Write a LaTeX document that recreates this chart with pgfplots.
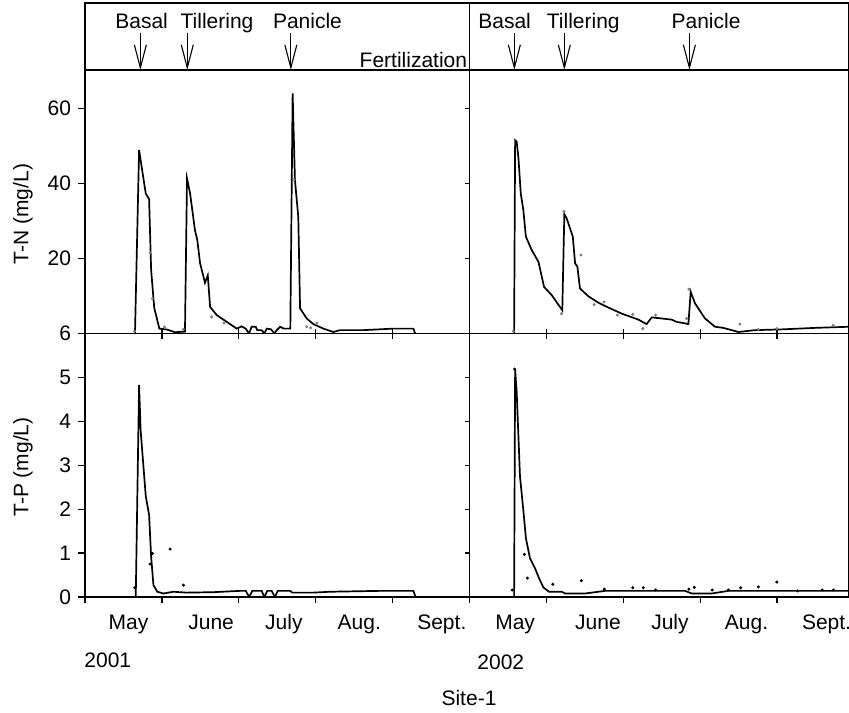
\documentclass[border=0pt]{standalone}
\usepackage{pgfplots}
\pgfplotsset{compat=1.18}
\usepackage{pgfplotstable}
\usepackage{fontspec}
\setmainfont{Liberation Sans}
\usetikzlibrary{arrows.meta}

% x = days after 1 May (axis ticks every 30 days), y = concentration
\pgfplotstableread{
x y
19.5 0
21.1 48.9
22.1 44.4
23.7 37.3
25.0 35.8
25.8 16.9
27.0 6.9
29.0 1.3
31.9 1.07
35.1 0.35
39.0 0.5
39.8 41.3
41.0 37.3
42.9 27.5
43.8 24.9
44.9 18.7
46.8 13.5
47.9 15.5
48.8 7.1
51.4 4.9
55.3 3.1
59.2 1.3
61.1 1.9
62.7 1.3
64.0 0
65.0 1.8
66.6 1.8
67.2 0.9
68.9 0.9
70.0 0
70.9 1.3
72.6 1.1
73.9 0
74.8 0.9
76.1 1.8
77.6 1.3
80.1 1.3
81.0 64.0
81.9 40.9
83.2 31.1
83.9 6.7
86.5 4.0
89.1 2.5
93.0 1.3
96.9 0.4
99.5 0.9
108.6 0.9
120.3 1.3
128.1 1.3
128.8 0
}\tnA
\pgfplotstableread{
x y
19.3 0.6
25.4 21.5
26.3 9.3
31.0 1.7
38.4 1.1
49.4 4.4
54.2 2.8
81.6 41
86.5 1.8
88.0 1.5
90.5 2.8
}\tnAdots
\pgfplotstableread{
x y
17.4 0
17.8 51.5
18.4 51.1
19.1 46.7
20.0 37.3
21.0 32.9
22.0 25.8
24.3 22.2
26.9 19.1
29.1 12.4
32.1 10.2
36.2 6.2
37.0 31.8
37.9 30.7
40.3 25.8
41.2 18.7
42.1 17.8
43.1 12.0
46.4 9.9
50.3 8.2
54.2 6.9
59.4 5.3
65.9 3.7
69.1 2.5
71.1 4.3
75.0 4.0
78.9 3.7
80.8 3.1
84.1 2.7
85.4 2.5
86.3 11.1
88.0 8.0
91.9 4.0
95.8 1.8
99.0 1.5
102.3 0.9
104.9 0.4
111.4 0.9
121.8 1.1
134.8 1.5
148.1 1.8
}\tnB
\pgfplotstableread{
x y
17.1 0.6
36.9 32.5
35.9 5.3
43.5 20.9
48.6 7.7
52.5 8.4
57.7 4.9
63.7 5.1
67.6 1.3
72.6 4.9
84.7 4.0
85.6 11.8
105.5 2.5
112.7 1.1
119.9 1.3
141.9 2.2
}\tnBdots
\pgfplotstableread{
x y
19.8 0
21.1 4.83
21.7 3.8
22.8 2.97
23.7 2.3
25.0 1.87
25.8 0.92
26.7 0.27
28.2 0.12
30.6 0.08
34.5 0.12
39.7 0.10
50.1 0.11
60.5 0.14
62.7 0.14
64.0 0
65.3 0.14
68.9 0.14
70.0 0
71.1 0.14
72.8 0.14
74.1 0
75.2 0.14
80.0 0.14
80.9 0.10
89.1 0.10
95.6 0.12
115.1 0.14
128.1 0.14
129.0 0
}\tpA
\pgfplotstableread{
x y
19.4 0.21
25.4 0.75
26.3 0.99
33.2 1.09
38.4 0.27
}\tpAdots
\pgfplotstableread{
x y
17.4 0
17.8 5.17
18.4 4.68
19.7 2.74
21.0 1.98
22.0 1.34
23.6 0.88
25.6 0.65
27.1 0.43
28.8 0.22
31.0 0.12
36.0 0.12
37.3 0.08
45.1 0.08
52.9 0.14
63.3 0.14
84.1 0.14
86.7 0.08
94.5 0.08
101.0 0.14
115.3 0.14
148.1 0.14
}\tpB
\pgfplotstableread{
x y
16.7 0.16
17.6 5.19
21.4 0.97
22.6 0.43
32.5 0.29
43.6 0.37
52.6 0.18
63.7 0.21
67.8 0.21
72.6 0.16
85.6 0.18
87.7 0.22
94.7 0.16
101.0 0.16
105.8 0.21
112.7 0.23
119.9 0.34
128.0 0.14
137.6 0.16
142.0 0.16
}\tpBdots

\pgfplotsset{
  base/.style={scale only axis, anchor=south west, xmin=0, ymin=0,
    axis line style={line width=0.7pt},
    every tick/.style={black, line width=0.6pt},
    tick label style={font=\fontsize{10.5}{12.6}\selectfont},
    /pgf/number format/assume math mode=true},
  leftpanel/.style={base, width=192.25pt, xmax=150},
  rightpanel/.style={base, width=189.75pt, xmax=148.07},
  tnrow/.style={height=131.75pt, ymax=70.2},
  tprow/.style={height=131.75pt, ymax=6.0},
  frow/.style={height=33.5pt, ymax=1, xtick=\empty, ytick=\empty},
  overlay/.style={axis line style={draw=none}},
  inner/.style={tick align=inside, major tick length=2.5pt, xticklabel=\empty, yticklabel=\empty},
  dataline/.style={black, line width=0.85pt, mark=none},
  dots/.style={only marks, mark=*, mark size=0.55pt, #1},
}
\tikzset{fert/.style={line width=0.55pt, -{Straight Barb[length=11.5pt,width=6pt]}}}

\begin{document}
\fontsize{10.5}{12.6}\selectfont
\begin{tikzpicture}
\path[use as bounding box] (0,0) rectangle (424.5pt,-356pt);

% ---------------- Fertilization row ----------------
\begin{axis}[leftpanel, frow, at={(42.5pt,-35pt)}]
\draw[fert] (axis cs:21.6,0.55) -- (axis cs:21.6,0);
\draw[fert] (axis cs:39.9,0.55) -- (axis cs:39.9,0);
\draw[fert] (axis cs:80.3,0.55) -- (axis cs:80.3,0);
\node[anchor=base, inner sep=0] at (axis cs:22.1,0.622) {Basal};
\node[anchor=base, inner sep=0] at (axis cs:51.5,0.622) {Tillering};
\node[anchor=base, inner sep=0] at (axis cs:86.8,0.622) {Panicle};
\node[anchor=base east, inner sep=0] at (axis cs:149.2,0.03) {Fertilization};
\end{axis}
\begin{axis}[rightpanel, frow, at={(234.75pt,-35pt)}]
\draw[fert] (axis cs:17.5,0.55) -- (axis cs:17.5,0);
\draw[fert] (axis cs:37.0,0.55) -- (axis cs:37.0,0);
\draw[fert] (axis cs:85.8,0.55) -- (axis cs:85.8,0);
\node[anchor=base, inner sep=0] at (axis cs:13.7,0.622) {Basal};
\node[anchor=base, inner sep=0] at (axis cs:44.4,0.622) {Tillering};
\node[anchor=base, inner sep=0] at (axis cs:92.3,0.622) {Panicle};
\end{axis}

% ---------------- T-N row ----------------
\begin{axis}[leftpanel, tnrow, inner, at={(42.5pt,-166.75pt)},
  xtick={30,60,90,120}, xtick pos=left, ytick={20,40,60}, ytick pos=right]
\addplot[dataline] table {\tnA};
\addplot[dots=gray] table {\tnAdots};
\end{axis}
\begin{axis}[leftpanel, tnrow, overlay, at={(42.5pt,-166.75pt)},
  xtick=\empty, ytick={0,20,40,60}, yticklabels={6,20,40,60},
  ytick pos=left, tick align=outside, major tick length=3.3pt]
\end{axis}
\begin{axis}[rightpanel, tnrow, inner, at={(234.75pt,-166.75pt)},
  xtick={30,60,90,120}, xtick pos=left, ytick=\empty]
\addplot[dataline] table {\tnB};
\addplot[dots=gray] table {\tnBdots};
\end{axis}

% ---------------- T-P row ----------------
\begin{axis}[leftpanel, tprow, inner, at={(42.5pt,-298.5pt)},
  xtick={30,60,90,120}, xtick pos=right, ytick={1,2,3,4,5}, ytick pos=right]
\addplot[dataline] table {\tpA};
\addplot[dots=black] table {\tpAdots};
\end{axis}
\begin{axis}[leftpanel, tprow, overlay, at={(42.5pt,-298.5pt)},
  xtick=\empty, ytick={0,1,2,3,4,5},
  ytick pos=left, tick align=outside, major tick length=3.3pt]
\end{axis}
\begin{axis}[leftpanel, tprow, overlay, at={(42.5pt,-298.5pt)},
  ytick=\empty, xtick={0,30,60,90,120,150}, xticklabel=\empty,
  xtick pos=left, tick align=outside, major tick length=2.8pt]
\end{axis}
\begin{axis}[leftpanel, tprow, overlay, at={(42.5pt,-298.5pt)},
  ytick=\empty, xtick={17.0,49.2,77.6,107.0,139.2},
  xticklabels={May,June,July,Aug.,Sept.},
  xtick pos=left, major tick length=0pt,
  xticklabel style={anchor=base, yshift=-16.25pt}]
\end{axis}

\begin{axis}[rightpanel, tprow, inner, at={(234.75pt,-298.5pt)},
  xtick={30,60,90,120}, xtick pos=right, ytick=\empty]
\addplot[dataline] table {\tpB};
\addplot[dots=black] table {\tpBdots};
\end{axis}
\begin{axis}[rightpanel, tprow, overlay, at={(234.75pt,-298.5pt)},
  ytick=\empty, xtick={30,60,90,120}, xticklabel=\empty,
  xtick pos=left, tick align=outside, major tick length=2.8pt]
\end{axis}
\begin{axis}[rightpanel, tprow, overlay, at={(234.75pt,-298.5pt)},
  ytick=\empty, xtick={17.8,50.1,78.2,108.1,139.3},
  xticklabels={May,June,July,Aug.,Sept.},
  xtick pos=left, major tick length=0pt,
  xticklabel style={anchor=base, yshift=-16.25pt}]
\end{axis}

% ---------------- free text ----------------
\begin{scope}[x=0.5pt, y=-0.5pt]
\node[rotate=90, inner sep=0] at (23,214) {T-N (mg/L)};
\node[rotate=90, inner sep=0] at (23,467) {T-P (mg/L)};
\node[anchor=base west, inner sep=0] at (84,667) {2001};
\node[anchor=base west, inner sep=0] at (477,669) {2002};
\node[anchor=base, inner sep=0] at (469,705) {Site-1};
\end{scope}
\end{tikzpicture}
\end{document}
